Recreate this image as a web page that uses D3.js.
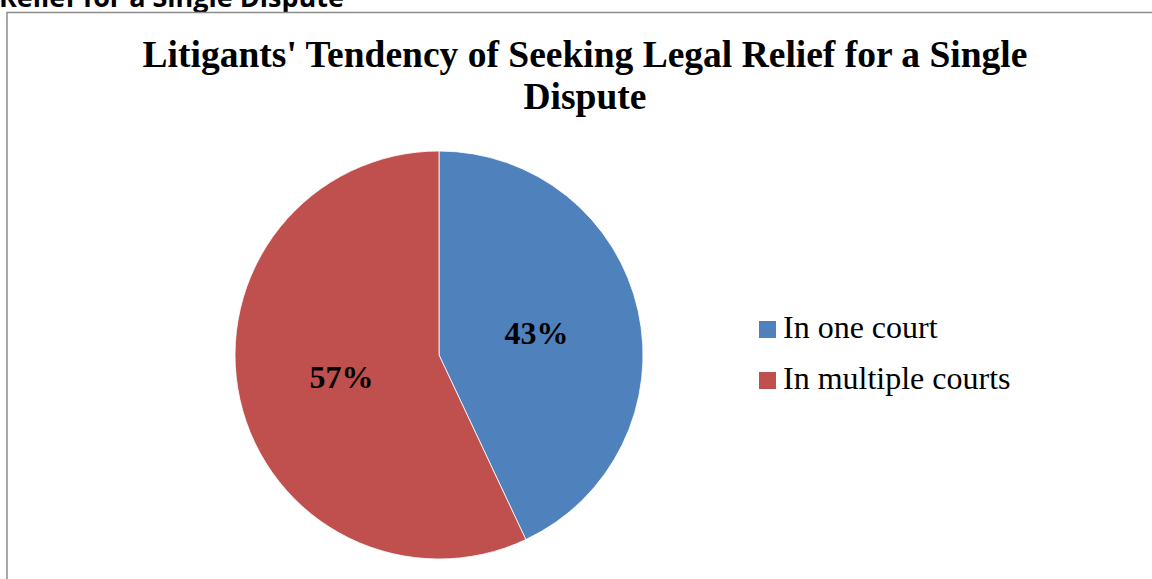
<!DOCTYPE html>
<html>
<head>
<meta charset="utf-8">
<script src="https://cdn.jsdelivr.net/npm/d3@7"></script>
<style>
html,body{margin:0;padding:0;background:#fff;overflow:hidden;}
svg{display:block;}
</style>
</head>
<body>
<svg id="chart" width="1152" height="579"></svg>
<script>
const categories = ["In one court", "In multiple courts"];
const values = [43, 57];
const labels = ["43%", "57%"];
const colors = ["#4F81BD", "#C0504D"];
const titleLines = ["Litigants' Tendency of Seeking Legal Relief for a Single", "Dispute"];
const captionText = "Relief for a Single Dispute";

const svg = d3.select("#chart");

// clipped caption above chart
svg.append("text")
  .attr("x", -1).attr("y", 7)
  .attr("font-family", "'Open Sans', 'Liberation Sans', sans-serif")
  .attr("font-weight", "bold").attr("font-size", 26)
  .attr("textLength", 345).attr("lengthAdjust", "spacingAndGlyphs")
  .attr("fill", "#000")
  .text(captionText);

// chart border
svg.append("rect")
  .attr("x", 7).attr("y", 12.5)
  .attr("width", 1200).attr("height", 600)
  .attr("fill", "#fff").attr("stroke", "#8c8c8c").attr("stroke-width", 1.5);

// title
const title = svg.append("text")
  .attr("text-anchor", "middle")
  .attr("font-family", "'Liberation Serif', 'Times New Roman', serif")
  .attr("font-weight", "bold").attr("font-size", 37.5)
  .attr("fill", "#000");
titleLines.forEach((t, i) => {
  title.append("tspan").attr("x", 585).attr("y", 67 + i * 42).text(t);
});

// pie
const cx = 439, cy = 355, r = 204;
const pie = d3.pie().sort(null).value(d => d)(values);
const arc = d3.arc().innerRadius(0).outerRadius(r);
const g = svg.append("g").attr("transform", `translate(${cx},${cy})`);
g.selectAll("path").data(pie).enter().append("path")
  .attr("d", arc)
  .attr("fill", (d, i) => colors[i])
  .attr("stroke", "#fff").attr("stroke-width", 0.8);

const labelArc = d3.arc().innerRadius(r * 0.49).outerRadius(r * 0.49);
g.selectAll("text.lbl").data(pie).enter().append("text")
  .attr("class", "lbl")
  .attr("transform", d => `translate(${labelArc.centroid(d)})`)
  .attr("text-anchor", "middle").attr("dy", "0.34em")
  .attr("font-family", "'Liberation Serif', 'Times New Roman', serif")
  .attr("font-weight", "bold").attr("font-size", 32)
  .attr("fill", "#000")
  .text((d, i) => labels[i]);

// legend
const legend = svg.append("g");
categories.forEach((c, i) => {
  const y = 321 + i * 51;
  legend.append("rect").attr("x", 759).attr("y", y).attr("width", 17).attr("height", 17).attr("fill", colors[i]);
  legend.append("text").attr("x", 783).attr("y", y + 17)
    .attr("font-family", "'Liberation Serif', 'Times New Roman', serif")
    .attr("font-size", 32).attr("fill", "#000").text(c);
});
</script>
</body>
</html>
